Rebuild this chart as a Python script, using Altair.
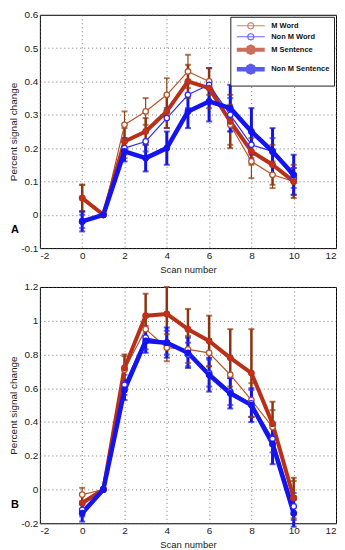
import altair as alt
import pandas as pd

scans = [0, 1, 2, 3, 4, 5, 6, 7, 8, 9, 10]
series = ["M Word", "Non M Word", "M Sentence", "Non M Sentence"]

# Panel A values
a_m_word = [0.05, 0.0, 0.27, 0.31, 0.36, 0.43, 0.40, 0.27, 0.16, 0.12, 0.10]
a_non_m_word = [-0.02, 0.0, 0.20, 0.22, 0.29, 0.36, 0.39, 0.30, 0.21, 0.19, 0.11]
a_m_sentence = [0.05, 0.0, 0.22, 0.25, 0.31, 0.40, 0.38, 0.28, 0.19, 0.15, 0.10]
a_non_m_sentence = [-0.02, 0.0, 0.19, 0.17, 0.20, 0.31, 0.34, 0.32, 0.25, 0.19, 0.12]
a_m_word_err = [0.04, 0.0, 0.04, 0.04, 0.05, 0.05, 0.04, 0.06, 0.05, 0.04, 0.04]
a_non_m_word_err = [0.02, 0.0, 0.03, 0.03, 0.03, 0.04, 0.05, 0.05, 0.04, 0.04, 0.03]
a_m_sentence_err = [0.04, 0.0, 0.04, 0.04, 0.05, 0.05, 0.06, 0.08, 0.04, 0.06, 0.05]
a_non_m_sentence_err = [0.03, 0.0, 0.03, 0.04, 0.05, 0.05, 0.06, 0.07, 0.07, 0.07, 0.06]

# Panel B values
b_m_word = [-0.03, 0.0, 0.71, 0.95, 0.84, 0.83, 0.81, 0.68, 0.53, 0.37, -0.05]
b_non_m_word = [-0.12, 0.0, 0.62, 0.90, 0.87, 0.80, 0.69, 0.58, 0.51, 0.30, -0.10]
b_m_sentence = [-0.08, 0.0, 0.72, 1.03, 1.04, 0.95, 0.88, 0.78, 0.69, 0.39, -0.05]
b_non_m_sentence = [-0.14, 0.0, 0.59, 0.88, 0.87, 0.81, 0.68, 0.57, 0.50, 0.27, -0.14]
b_m_word_err = [0.04, 0.0, 0.08, 0.08, 0.08, 0.08, 0.08, 0.10, 0.10, 0.10, 0.10]
b_non_m_word_err = [0.04, 0.0, 0.06, 0.07, 0.07, 0.07, 0.08, 0.08, 0.08, 0.08, 0.08]
b_m_sentence_err = [0.05, 0.0, 0.08, 0.13, 0.16, 0.12, 0.15, 0.17, 0.26, 0.13, 0.12]
b_non_m_sentence_err = [0.05, 0.0, 0.06, 0.07, 0.09, 0.09, 0.10, 0.09, 0.10, 0.12, 0.08]

# tick labels
x_ticks = [-2, 0, 2, 4, 6, 8, 10, 12]
a_y_ticks = [-0.1, 0.0, 0.1, 0.2, 0.3, 0.4, 0.5, 0.6]
b_y_ticks = [-0.2, 0.0, 0.2, 0.4, 0.6, 0.8, 1.0, 1.2]

line_colors = ["#b5552a", "#2a2aff", "#b83018", "#1414f0"]
err_colors = ["#8b4513", "#2a2aff", "#8b3510", "#1414e0"]
widths = [1.2, 1.2, 4.0, 4.5]
err_widths = [1.2, 1.2, 2.5, 3.0]
fills = ["white", "white", "#c8301a", "#1414f0"]


def build(vals, errs):
    rows = []
    for i, s in enumerate(series):
        for x, v, e in zip(scans, vals[i], errs[i]):
            rows.append({
                "scan": x, "value": v, "lo": v - e, "hi": v + e,
                "series": s, "col": line_colors[i], "ecol": err_colors[i],
                "fillc": fills[i], "ew": err_widths[i],
            })
    return pd.DataFrame(rows)


df_a = build([a_m_word, a_non_m_word, a_m_sentence, a_non_m_sentence],
             [a_m_word_err, a_non_m_word_err, a_m_sentence_err, a_non_m_sentence_err])
df_b = build([b_m_word, b_non_m_word, b_m_sentence, b_non_m_sentence],
             [b_m_word_err, b_non_m_word_err, b_m_sentence_err, b_non_m_sentence_err])

FONT = "Liberation Sans"
FIX = "replace(format(datum.value, '~g'), '\u2212', '-')"
SYM = ("M-1,0L6,0M3.3,0L3.07,0.57L2.5,0.8L1.93,0.57L1.7,0L1.93,-0.57"
       "L2.5,-0.8L3.07,-0.57Z")


def panel(df, ydom, yvals, letter, h):
    xaxis = alt.Axis(values=x_ticks, title="Scan number", labelOverlap=False,
                     labelExpr=FIX)
    yaxis = alt.Axis(values=yvals, title="Percent signal change",
                     labelOverlap=False, labelExpr=FIX)
    xs = alt.Scale(domain=[-2, 12], nice=False)
    ys = alt.Scale(domain=ydom, nice=False)
    base = alt.Chart(df)
    errs = base.mark_rule().encode(
        x=alt.X("scan:Q", scale=xs, axis=xaxis),
        y=alt.Y("lo:Q", scale=ys, axis=yaxis),
        y2="hi:Q",
        color=alt.Color("ecol:N", scale=None),
        strokeWidth=alt.StrokeWidth("ew:Q", scale=None),
    )
    caps_lo = base.mark_tick(orient="horizontal", size=6, thickness=2).encode(
        x=alt.X("scan:Q", scale=xs, axis=xaxis),
        y=alt.Y("lo:Q", scale=ys, axis=yaxis),
        color=alt.Color("ecol:N", scale=None))
    caps_hi = base.mark_tick(orient="horizontal", size=6, thickness=2).encode(
        x=alt.X("scan:Q", scale=xs, axis=xaxis),
        y=alt.Y("hi:Q", scale=ys, axis=yaxis),
        color=alt.Color("ecol:N", scale=None))
    lines = base.mark_line(strokeJoin="round").encode(
        x=alt.X("scan:Q", scale=xs, axis=xaxis),
        y=alt.Y("value:Q", scale=ys, axis=yaxis),
        color=alt.Color("series:N", sort=series,
                        scale=alt.Scale(domain=series, range=line_colors),
                        legend=alt.Legend(title=None)),
        strokeWidth=alt.StrokeWidth("series:N", sort=series,
                                    scale=alt.Scale(type="ordinal", domain=series, range=widths),
                                    legend=alt.Legend(title=None)),
        detail="series:N",
    )
    pts = base.mark_point(filled=False, size=30, strokeWidth=1.3, opacity=1).encode(
        x=alt.X("scan:Q", scale=xs, axis=xaxis),
        y=alt.Y("value:Q", scale=ys, axis=yaxis),
        stroke=alt.Stroke("col:N", scale=None),
        fill=alt.Fill("fillc:N", scale=None),
    )
    lab = alt.Chart(pd.DataFrame({"t": [letter]})).mark_text(
        fontWeight="bold", fontSize=11, font=FONT, align="left").encode(
        text="t:N", x=alt.value(-29), y=alt.value(h - 18))
    return alt.layer(errs, caps_lo, caps_hi, lines, pts, lab).properties(width=297, height=h)


chart = alt.vconcat(
    panel(df_a, [-0.1, 0.6], a_y_ticks, "A", 234),
    panel(df_b, [-0.2, 1.2], b_y_ticks, "B", 237),
    spacing=7,
).properties(padding={"left": 0, "top": 0, "right": 0, "bottom": 0}).configure_view(
    stroke="black", strokeWidth=1
).configure_axis(
    grid=True, gridColor="#555", gridDash=[1, 3], gridOpacity=0.8, gridWidth=1,
    domain=False, ticks=False, labelFont=FONT, labelFontSize=10, labelColor="#222",
    titleFont=FONT, titleFontSize=9.5, titleFontWeight="normal", titleColor="#222",
    labelPadding=2, labelOverlap=False,
).configure_axisY(titleFontSize=10, titlePadding=2).configure_axisX(titlePadding=4, labelPadding=2).configure_legend(
    orient="top-right", strokeColor="#222", fillColor="white", padding=4, offset=2,
    symbolType=SYM, symbolSize=64, symbolFillColor="white", labelOffset=24,
    labelFont=FONT, labelFontSize=7.5,
    labelFontWeight="bold", rowPadding=-5, labelColor="#111",
)

chart.save("out.html", embed_options={"renderer": "svg", "actions": False})
